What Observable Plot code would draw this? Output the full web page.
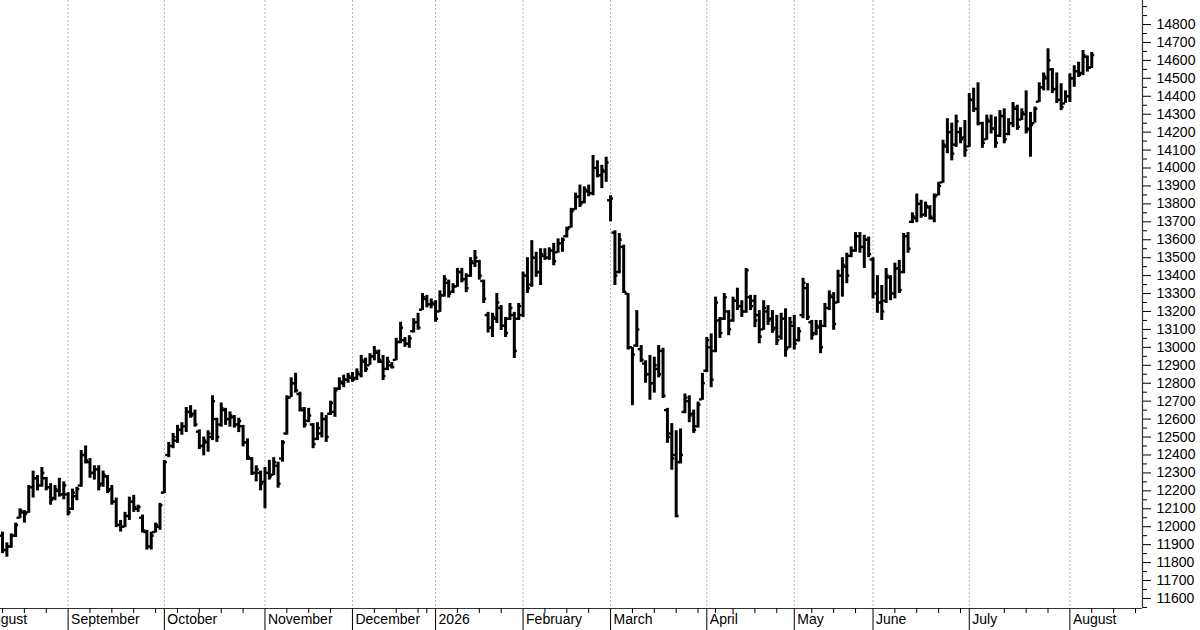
<!DOCTYPE html>
<html>
<head>
<meta charset="utf-8">
<script src="https://cdn.jsdelivr.net/npm/d3@7"></script>
<script src="https://cdn.jsdelivr.net/npm/@observablehq/plot@0.6"></script>
<style>
  html, body { margin: 0; padding: 0; background: #fff; }
  #chart svg { display: block; }
</style>
</head>
<body>
<div id="chart"></div>
<script>
// Month labels and the trading-day index where each month starts
const months = ["August","September","October","November","December","2026","February","March","April","May","June","July","August"];
const monthStart = [-5, 15, 37, 60, 80, 99, 119, 139, 161, 181, 199, 221, 244];
// Weekly tick marks (trading-day index)
const weekTicks = [0,5,10,20,25,30,35,40,45,50,55,65,70,75,85,90,95,97,104,109,114,124,129,134,144,149,154,159,163,167,172,177,185,190,195,204,209,214,219,229,234,239,249,254,259];
// Y tick labels
const yLabels = [11600,11700,11800,11900,12000,12100,12200,12300,12400,12500,12600,12700,12800,12900,13000,13100,13200,13300,13400,13500,13600,13700,13800,13900,14000,14100,14200,14300,14400,14500,14600,14700,14800];

const open = [
11950,11870,11890,11950,12050,12080,12080,12220,12270,12230,
12270,12220,12160,12200,12180,12180,12100,12170,12230,12400,
12360,12300,12320,12240,12280,12210,12140,12010,12000,12060,
12140,12100,12050,11970,11890,11970,12000,12190,12400,12450,
12480,12540,12560,12640,12630,12530,12450,12470,12500,12600,
12570,12650,12600,12610,12570,12560,12470,12380,12300,12300,
12250,12300,12290,12340,12380,12520,12720,12800,12740,12650,
12590,12570,12490,12520,12600,12630,12640,12770,12800,12820,
12830,12830,12850,12920,12900,12950,12970,12920,12880,12900,
12930,13030,13040,13020,13090,13140,13210,13270,13240,13240,
13200,13290,13360,13310,13340,13420,13380,13400,13470,13480,
13370,13180,13110,13160,13220,13120,13160,13180,13160,13180,
13400,13350,13500,13420,13510,13500,13540,13530,13580,13620,
13670,13770,13840,13810,13870,13860,14000,13960,13980,13820,
13640,13420,13560,13300,13000,13010,12990,12910,12850,12800,
12880,12980,12650,12520,12400,12360,12640,12700,12630,12560,
12710,12870,13000,12980,13150,13160,13200,13150,13260,13230,
13200,13280,13260,13180,13100,13200,13160,13110,13060,13160,
13000,13120,13040,13180,13330,13140,13080,13110,13120,13220,
13280,13250,13400,13450,13510,13540,13620,13560,13600,13490,
13300,13250,13260,13390,13300,13440,13420,13620,13700,13720,
13800,13740,13780,13720,13850,13920,14120,14200,14130,14200,
14170,14120,14380,14330,14250,14160,14260,14220,14180,14290,
14190,14250,14330,14270,14300,14220,14250,14370,14450,14500,
14550,14440,14380,14360,14400,14500,14540,14530,14620,14560
];
const high = [
11970,11910,11960,12020,12100,12090,12230,12310,12285,12330,
12275,12240,12230,12270,12250,12190,12210,12220,12425,12450,
12380,12340,12340,12310,12285,12230,12160,12035,12080,12165,
12175,12120,12065,11980,11970,12020,12130,12370,12470,12520,
12565,12580,12665,12675,12650,12540,12500,12535,12730,12605,
12690,12660,12640,12620,12605,12565,12490,12385,12340,12310,
12330,12370,12385,12360,12480,12730,12830,12855,12750,12665,
12660,12575,12580,12635,12620,12700,12775,12830,12845,12855,
12860,12880,12955,12940,12965,13005,12985,12955,12945,12915,
13050,13140,13055,13065,13160,13190,13300,13290,13270,13260,
13315,13400,13375,13355,13440,13440,13410,13500,13540,13485,
13375,13195,13190,13300,13233,13167,13245,13195,13245,13420,
13500,13595,13530,13550,13550,13555,13580,13605,13610,13670,
13775,13860,13905,13895,13905,14070,14040,14015,14060,13845,
13650,13635,13570,13300,13000,13205,13010,12925,12955,12945,
13010,12995,12660,12575,12535,12545,12740,12730,12650,12695,
12855,13055,13075,13280,13167,13300,13205,13280,13330,13260,
13440,13290,13290,13205,13260,13233,13205,13178,13190,13215,
13167,13178,13110,13385,13355,13150,13150,13150,13245,13315,
13305,13430,13500,13525,13560,13640,13640,13625,13615,13500,
13400,13345,13440,13400,13470,13485,13635,13640,13750,13855,
13820,13810,13790,13855,13920,14155,14275,14250,14295,14225,
14265,14415,14445,14475,14255,14295,14295,14285,14320,14330,
14275,14365,14350,14330,14430,14310,14340,14475,14530,14665,
14555,14530,14470,14430,14525,14570,14590,14655,14625,14645
];
const low = [
11850,11830,11880,11940,12045,12020,12075,12160,12200,12220,
12200,12120,12145,12165,12150,12060,12090,12145,12220,12350,
12270,12260,12200,12220,12185,12120,11995,11970,11995,12035,
12080,12080,11965,11870,11870,11965,11980,12185,12385,12435,
12465,12510,12525,12605,12555,12430,12395,12415,12480,12470,
12555,12565,12555,12550,12525,12445,12370,12285,12250,12200,
12100,12260,12285,12215,12360,12510,12720,12745,12640,12550,
12580,12435,12480,12495,12470,12620,12610,12760,12775,12800,
12805,12815,12830,12860,12900,12925,12910,12815,12870,12880,
12925,13020,13000,12995,13080,13095,13205,13220,13215,13140,
13195,13280,13275,13300,13335,13360,13305,13390,13445,13375,
13245,13080,13055,13133,13094,13055,13150,12938,13150,13167,
13300,13335,13390,13345,13485,13485,13455,13525,13530,13610,
13665,13765,13780,13800,13840,13845,13945,13885,13920,13700,
13345,13410,13300,12985,12675,13000,12915,12800,12705,12745,
12830,12715,12465,12315,12050,12350,12630,12580,12520,12550,
12705,12860,12775,12970,13050,13150,13065,13140,13205,13167,
13190,13205,13110,13020,13095,13122,13078,13010,13040,12945,
12995,12985,13030,13160,13150,13040,13065,12965,13110,13205,
13095,13245,13280,13355,13500,13530,13525,13440,13500,13270,
13190,13150,13245,13260,13270,13300,13410,13525,13690,13695,
13720,13725,13710,13695,13845,13915,14080,14040,14115,14135,
14060,14115,14310,14235,14110,14155,14190,14110,14170,14135,
14180,14225,14210,14265,14190,14060,14250,14365,14430,14430,
14415,14360,14320,14360,14365,14450,14505,14515,14535,14555
];
const close = [
11870,11890,11950,12010,12090,12070,12220,12270,12230,12300,
12220,12150,12210,12180,12230,12080,12190,12210,12400,12370,
12300,12320,12230,12290,12200,12140,12010,12000,12060,12140,
12110,12110,11980,11890,11950,12010,12120,12360,12450,12500,
12540,12560,12640,12620,12570,12450,12480,12520,12700,12500,
12660,12600,12620,12570,12590,12470,12390,12300,12320,12240,
12300,12280,12360,12240,12470,12720,12800,12760,12660,12570,
12620,12460,12550,12600,12500,12690,12760,12810,12820,12840,
12820,12860,12930,12880,12950,12980,12930,12840,12920,12890,
13030,13110,13020,13050,13140,13110,13280,13240,13250,13160,
13290,13380,13300,13340,13420,13380,13330,13480,13500,13400,
13270,13110,13170,13250,13120,13080,13220,12980,13230,13400,
13330,13500,13420,13520,13500,13540,13480,13580,13600,13660,
13760,13840,13800,13880,13860,14000,13960,13990,14030,13830,
13400,13600,13310,13000,12960,13100,12930,12850,12800,12900,
12850,12730,12500,12380,12060,12400,12720,12620,12540,12680,
12800,13040,12820,13250,13080,13280,13100,13260,13230,13200,
13430,13230,13150,13060,13220,13150,13100,13040,13160,12990,
13140,13020,13090,13360,13170,13070,13120,13000,13220,13290,
13130,13400,13460,13400,13540,13620,13560,13600,13520,13300,
13250,13200,13400,13300,13440,13320,13620,13550,13730,13800,
13740,13790,13730,13840,13900,14130,14200,14080,14260,14160,
14100,14380,14330,14250,14140,14270,14220,14140,14290,14160,
14250,14340,14230,14310,14210,14240,14330,14450,14510,14600,
14440,14380,14340,14400,14500,14540,14520,14630,14560,14630
];

const bars = high.map((h, i) => ({i, open: open[i], high: h, low: low[i], close: close[i]}));

const xDomain = [-0.457, 260.6];
const yDomain = [11544, 14934];
const yMinor = d3.range(11550, 14951, 50).filter(v => v % 100 !== 0 || v > 14800);

const chart = Plot.plot({
  width: 1200,
  height: 630,
  marginTop: 0,
  marginRight: 58,
  marginBottom: 22,
  marginLeft: 0,
  x: {domain: xDomain, axis: null},
  y: {domain: yDomain, axis: null},
  style: {fontFamily: "'Liberation Sans', Arial, sans-serif", fontSize: "14px", color: "#000", background: "#fff", overflow: "visible"},
  marks: [
    Plot.ruleX(monthStart.filter(d => d >= 0), {x: d => d, stroke: "#b8b8b8", strokeDasharray: "2,2", strokeWidth: 1}),
    Plot.ruleX(bars, {x: "i", y1: "low", y2: "high", stroke: "#000", strokeWidth: 3}),
    Plot.ruleY(bars, {y: "open", x1: d => d.i - 0.68, x2: "i", stroke: "#000", strokeWidth: 2.4}),
    Plot.ruleY(bars, {y: "close", x1: "i", x2: d => d.i + 0.68, stroke: "#000", strokeWidth: 2.4}),
    Plot.ruleY([yDomain[0]], {stroke: "#333", strokeWidth: 1.2}),
    Plot.ruleX([xDomain[1]], {stroke: "#333", strokeWidth: 1.2}),
    Plot.axisY({anchor: "right", ticks: yLabels, tickSize: 8, tickPadding: 6, tickFormat: d => String(d), label: null, fontSize: 14}),
    Plot.axisY({anchor: "right", ticks: yMinor, tickSize: 4, tickFormat: () => "", label: null}),
    Plot.axisX({anchor: "bottom", ticks: weekTicks, tickSize: 5, tickFormat: () => "", label: null}),
    Plot.axisX({anchor: "bottom", ticks: monthStart.filter(d => d >= 0), tickSize: 22, tickFormat: () => "", label: null}),
    Plot.text(monthStart, {x: d => d, text: (d, i) => months[i], frameAnchor: "bottom", textAnchor: "start", dx: 3, dy: 15, fontSize: 14})
  ]
});

document.getElementById("chart").appendChild(chart);
</script>
</body>
</html>
